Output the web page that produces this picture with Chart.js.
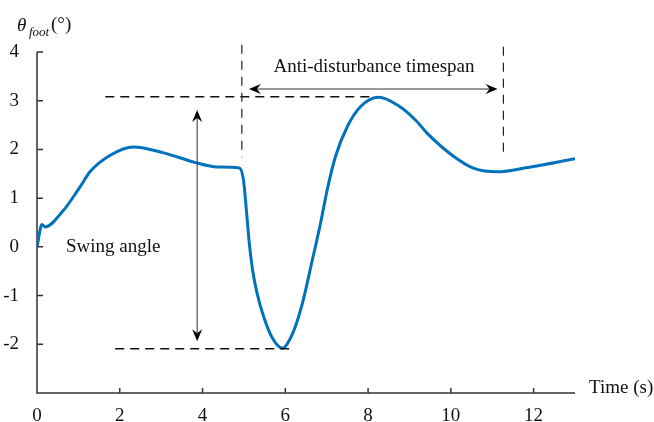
<!DOCTYPE html>
<html>
<head>
<meta charset="utf-8">
<script src="https://cdn.jsdelivr.net/npm/chart.js@4"></script>
<style>
  html, body { margin: 0; padding: 0; background: #fff; }
  canvas { display: block; }
</style>
</head>
<body>
<canvas id="foot-chart" width="654" height="422"></canvas>
<script>
const ctx_foot = document.getElementById('foot-chart');

// time (s) and foot angle (deg)
const timeS = [0, 0.12, 0.19, 0.64, 1.04, 1.28, 1.77, 2.33, 3.06, 3.83, 4.35, 4.89, 4.99, 5.06, 5.13, 5.21, 5.32,
  5.48, 5.68, 5.93, 6.17, 6.41, 6.65, 6.85, 7.01, 7.21, 7.5, 7.82, 8.26, 8.71, 9.15, 9.43, 10.08, 10.56, 11.13, 11.86, 13];
const footAngle = [0, 0.46, 0.41, 0.75, 1.23, 1.54, 1.88, 2.05, 1.93, 1.73, 1.64, 1.62, 1.37, 0.75, 0.07, -0.48, -0.96,
  -1.44, -1.86, -2.08, -1.79, -1.17, -0.28, 0.48, 1.16, 1.85, 2.47, 2.88, 3.07, 2.91, 2.6, 2.33, 1.85, 1.61, 1.54, 1.63, 1.81];

const xTicks = [0, 2, 4, 6, 8, 10, 12];
const yTicks = [-2, -1, 0, 1, 2, 3, 4];

// annotation guides, in data units
const swingTop = [1.65, 8.1, 3.08];      // x from, x to, y
const swingBottom = [1.89, 6.13, -2.09];
const spanStart = [4.95, 1.84, 4.15];    // x, y from, y to
const spanEnd = [11.27, 1.85, 4.11];
const swingArrow = [3.87, 2.81, -1.94];  // x, y top, y bottom
const spanArrow = [5.12, 11.13, 3.24];   // x left, x right, y

const serif = "'Liberation Serif', 'Times New Roman', serif";
const axisColor = '#333';

function arrowHead(c, x, y, angle) {
  c.save();
  c.translate(x, y);
  c.rotate(angle);
  c.beginPath();
  c.moveTo(0, 0);
  c.lineTo(-12, -5);
  c.lineTo(-8, 0);
  c.lineTo(-12, 5);
  c.closePath();
  c.fill();
  c.restore();
}

const decorPlugin = {
  id: 'decor',
  beforeDatasetsDraw(chart) {
    const c = chart.ctx;
    const xs = chart.scales.x, ys = chart.scales.y;
    const a = chart.chartArea;
    c.save();
    // axis lines
    c.strokeStyle = axisColor;
    c.lineWidth = 1.5;
    c.beginPath();
    c.moveTo(a.left, ys.getPixelForValue(4));
    c.lineTo(a.left, a.bottom);
    c.lineTo(a.right, a.bottom);
    c.stroke();
    // inward ticks
    c.beginPath();
    yTicks.forEach(v => {
      const p = ys.getPixelForValue(v);
      c.moveTo(a.left, p);
      c.lineTo(a.left + 6, p);
    });
    xTicks.forEach(v => {
      if (v === 0) return;
      const p = xs.getPixelForValue(v);
      c.moveTo(p, a.bottom);
      c.lineTo(p, a.bottom - 5);
    });
    c.stroke();
    c.restore();
  },
  afterDatasetsDraw(chart) {
    const c = chart.ctx;
    const xs = chart.scales.x, ys = chart.scales.y;
    const X = v => xs.getPixelForValue(v);
    const Y = v => ys.getPixelForValue(v);
    c.save();

    // horizontal dashed guides
    c.strokeStyle = '#111';
    c.lineWidth = 1.5;
    c.setLineDash([9, 6]);
    c.beginPath();
    c.moveTo(X(swingTop[0]), Y(swingTop[2]));
    c.lineTo(X(swingTop[1]), Y(swingTop[2]));
    c.moveTo(X(swingBottom[0]), Y(swingBottom[2]));
    c.lineTo(X(swingBottom[1]), Y(swingBottom[2]));
    c.stroke();

    // vertical dashed guides
    c.strokeStyle = '#222';
    c.lineWidth = 1.2;
    c.setLineDash([9, 7]);
    c.beginPath();
    c.moveTo(X(spanStart[0]), Y(spanStart[2]));
    c.lineTo(X(spanStart[0]), Y(spanStart[1]));
    c.moveTo(X(spanEnd[0]), Y(spanEnd[2]));
    c.lineTo(X(spanEnd[0]), Y(spanEnd[1]));
    c.stroke();
    c.setLineDash([]);

    // double arrows
    c.strokeStyle = '#333';
    c.fillStyle = '#000';
    c.lineWidth = 1;
    const ax = X(swingArrow[0]), ay1 = Y(swingArrow[1]), ay2 = Y(swingArrow[2]);
    c.beginPath();
    c.moveTo(ax, ay1 + 6);
    c.lineTo(ax, ay2 - 6);
    c.stroke();
    arrowHead(c, ax, ay1, -Math.PI / 2);
    arrowHead(c, ax, ay2, Math.PI / 2);

    const hx1 = X(spanArrow[0]), hx2 = X(spanArrow[1]), hy = Y(spanArrow[2]);
    c.beginPath();
    c.moveTo(hx1 + 6, hy);
    c.lineTo(hx2 - 6, hy);
    c.stroke();
    arrowHead(c, hx1, hy, Math.PI);
    arrowHead(c, hx2, hy, 0);

    // text labels
    c.fillStyle = '#111';
    c.font = '19px ' + serif;
    c.textBaseline = 'middle';
    c.textAlign = 'center';
    c.fillText('Anti-disturbance timespan', 374, 67);
    c.textAlign = 'left';
    c.fillText('Swing angle', 66, 247);
    c.fillText('Time (s)', 589, 388);

    // y axis title with subscript
    c.textBaseline = 'alphabetic';
    c.font = 'italic 19px ' + serif;
    c.fillText('\u03b8', 17, 31);
    c.font = 'italic 13px ' + serif;
    c.fillText('foot', 29, 36);
    c.font = '19px ' + serif;
    c.fillText('(\u00b0)', 51, 30);
    c.restore();
  }
};

window.footChart = new Chart(ctx_foot, {
  type: 'line',
  data: {
    datasets: [{
      label: 'theta foot',
      data: timeS.map((t, i) => ({ x: t, y: footAngle[i] })),
      borderColor: '#0072BD',
      borderWidth: 3,
      pointRadius: 0,
      cubicInterpolationMode: 'monotone',
      fill: false
    }]
  },
  options: {
    responsive: false,
    animation: false,
    layout: { padding: { top: 52, right: 79, left: 0, bottom: 0 } },
    plugins: {
      legend: { display: false },
      tooltip: { enabled: false }
    },
    scales: {
      x: {
        type: 'linear',
        min: 0,
        max: 13,
        afterBuildTicks: s => { s.ticks = xTicks.map(v => ({ value: v })); },
        afterFit: s => { s.height = 29; },
        grid: { display: false },
        border: { display: false },
        ticks: { color: '#111', font: { family: serif, size: 19 }, padding: 4, maxRotation: 0 }
      },
      y: {
        type: 'linear',
        min: -3,
        max: 4,
        afterBuildTicks: s => { s.ticks = yTicks.map(v => ({ value: v })); },
        afterFit: s => { s.width = 37; },
        grid: { display: false },
        border: { display: false },
        ticks: { color: '#111', font: { family: serif, size: 19 }, padding: 10, callback: v => String(v) }
      }
    }
  },
  plugins: [decorPlugin]
});
</script>
</body>
</html>
